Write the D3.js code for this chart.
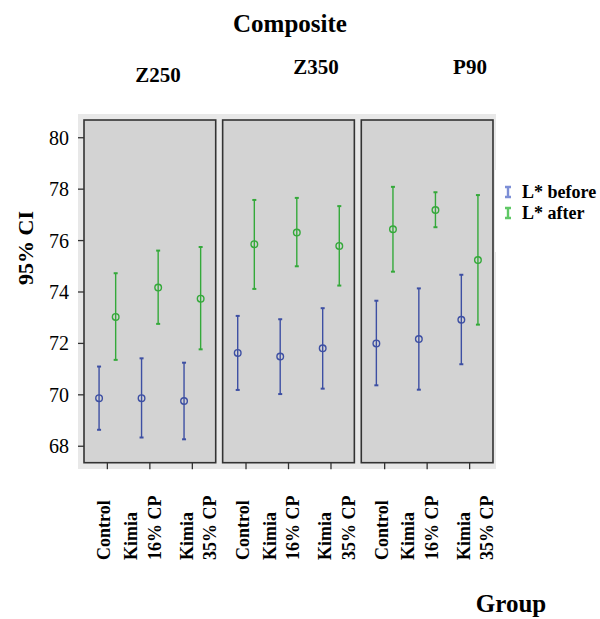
<!DOCTYPE html>
<html>
<head>
<meta charset="utf-8">
<script src="https://cdn.jsdelivr.net/npm/d3@7"></script>
<style>
  body { margin: 0; background: #fff; }
  svg text { font-family: 'Liberation Serif', 'Times New Roman', Times, 'DejaVu Serif', serif; }
</style>
</head>
<body>
<script>
// composites (panels) and groups within each panel
const composites = ['Z250', 'Z350', 'P90'];
const groups = ['Control', 'Kimia 16% CP', 'Kimia 35% CP'];
const groupLines = [['Control'], ['Kimia', '16% CP'], ['Kimia', '35% CP']];
const series = ['L* before', 'L* after'];
const yTicks = [68, 70, 72, 74, 76, 78, 80];

// mean and 95% CI, one row per composite, one value per group
const beforeMean = [[69.87, 69.87, 69.76], [71.63, 71.49, 71.81], [72.00, 72.17, 72.92]];
const beforeLow  = [[68.64, 68.34, 68.27], [70.19, 70.03, 70.24], [70.37, 70.20, 71.19]];
const beforeHigh = [[71.10, 71.42, 71.25], [73.07, 72.94, 73.37], [73.66, 74.14, 74.67]];
const afterMean  = [[73.03, 74.17, 73.74], [75.86, 76.31, 75.79], [76.44, 77.19, 75.24]];
const afterLow   = [[71.36, 72.76, 71.77], [74.12, 75.00, 74.25], [74.79, 76.52, 72.73]];
const afterHigh  = [[74.73, 75.61, 75.75], [77.58, 77.66, 77.34], [78.09, 77.88, 77.77]];

const width = 600, height = 619;
const colors = { 'L* before': '#3d4fa3', 'L* after': '#34a93a' };
const legendColors = { 'L* before': '#7d8fd6', 'L* after': '#5fc865' };

// build rows for drawing
const rows = [];
composites.forEach((c, ci) => {
    groups.forEach((g, gi) => {
        rows.push({ comp: c, group: g, series: 'L* before', mean: beforeMean[ci][gi], lo: beforeLow[ci][gi], hi: beforeHigh[ci][gi] });
        rows.push({ comp: c, group: g, series: 'L* after', mean: afterMean[ci][gi], lo: afterLow[ci][gi], hi: afterHigh[ci][gi] });
    });
});

const svg = d3.select('body').append('svg')
    .attr('width', width)
    .attr('height', height);

const panelX = d3.scaleBand().domain(composites).range([84, 493]).paddingInner(0.05);
const groupX = d3.scalePoint().domain(groups).range([0, panelX.bandwidth()]).padding(0.55);
const seriesX = d3.scalePoint().domain(series).range([-8.3, 8.3]);
const y = d3.scaleLinear().domain([67.36, 80.69]).range([462.7, 120]);

// outer background
svg.append('rect')
    .attr('x', 78).attr('y', 114)
    .attr('width', 418).attr('height', 355)
    .attr('fill', '#e8e8e8');

// title
svg.append('text')
    .attr('x', 290).attr('y', 32)
    .attr('text-anchor', 'middle')
    .attr('font-weight', 'bold').attr('font-size', 25)
    .text('Composite');

// panel labels (positions as in the original figure)
const panelLabelPos = { Z250: [158, 82], Z350: [316, 74], P90: [470, 74] };
svg.selectAll('.panel-label')
    .data(composites)
    .enter().append('text')
    .attr('class', 'panel-label')
    .attr('x', d => panelLabelPos[d][0])
    .attr('y', d => panelLabelPos[d][1])
    .attr('text-anchor', 'middle')
    .attr('font-weight', 'bold').attr('font-size', 21)
    .text(d => d);

// panels
const panel = svg.selectAll('.panel')
    .data(composites)
    .enter().append('g')
    .attr('class', 'panel')
    .attr('transform', d => 'translate(' + panelX(d) + ',0)');

panel.append('rect')
    .attr('x', 0).attr('y', y.range()[1])
    .attr('width', panelX.bandwidth())
    .attr('height', y.range()[0] - y.range()[1])
    .attr('fill', '#d3d3d3')
    .attr('stroke', '#333')
    .attr('stroke-width', 1.6);

// x ticks below each panel
panel.selectAll('.xtick')
    .data(groups)
    .enter().append('line')
    .attr('x1', d => groupX(d)).attr('x2', d => groupX(d))
    .attr('y1', y.range()[0]).attr('y2', y.range()[0] + 6.5)
    .attr('stroke', '#333').attr('stroke-width', 1.3);

// x tick labels, rotated
const labelShift = [-3, -7, 6];
panel.each(function (c) {
    const g = d3.select(this);
    groups.forEach((grp, gi) => {
        const lines = groupLines[gi];
        lines.forEach((line, li) => {
            const xx = groupX(grp) + labelShift[gi] + (li - (lines.length - 1) / 2) * 23.4 + 6;
            g.append('text')
                .attr('transform', 'translate(' + xx + ',560) rotate(-90)')
                .attr('text-anchor', 'start')
                .attr('font-weight', 'bold').attr('font-size', 18)
                .text(line);
        });
    });
});

// error bars
panel.each(function (c) {
    const g = d3.select(this);
    const data = rows.filter(r => r.comp === c);
    const bar = g.selectAll('.bar')
        .data(data)
        .enter().append('g')
        .attr('class', 'bar')
        .attr('transform', d => 'translate(' + (groupX(d.group) + seriesX(d.series)) + ',0)')
        .attr('stroke', d => colors[d.series])
        .attr('stroke-width', 1.4)
        .attr('fill', 'none');
    bar.append('line')
        .attr('y1', d => y(d.lo)).attr('y2', d => y(d.hi));
    bar.append('line')
        .attr('x1', -2).attr('x2', 2)
        .attr('y1', d => y(d.lo)).attr('y2', d => y(d.lo))
        .attr('stroke-width', 2);
    bar.append('line')
        .attr('x1', -2).attr('x2', 2)
        .attr('y1', d => y(d.hi)).attr('y2', d => y(d.hi))
        .attr('stroke-width', 2);
    bar.append('circle')
        .attr('cy', d => y(d.mean))
        .attr('r', 3.3);
});

// y axis ticks and labels
svg.selectAll('.ytick')
    .data(yTicks)
    .enter().append('line')
    .attr('x1', 78).attr('x2', 84)
    .attr('y1', d => y(d)).attr('y2', d => y(d))
    .attr('stroke', '#333').attr('stroke-width', 1.3);

svg.selectAll('.ylabel')
    .data(yTicks)
    .enter().append('text')
    .attr('x', 69)
    .attr('y', d => y(d))
    .attr('dy', '0.35em')
    .attr('text-anchor', 'end')
    .attr('font-size', 20)
    .text(d => d);

svg.append('text')
    .attr('transform', 'translate(33,248) rotate(-90)')
    .attr('text-anchor', 'middle')
    .attr('font-weight', 'bold').attr('font-size', 22)
    .text('95% CI');

// x axis title
svg.append('text')
    .attr('x', 511).attr('y', 612)
    .attr('text-anchor', 'middle')
    .attr('font-weight', 'bold').attr('font-size', 25)
    .text('Group');

// legend
svg.append('rect')
    .attr('x', 495).attr('y', 170)
    .attr('width', 105).attr('height', 82)
    .attr('fill', '#fff');

const legend = svg.selectAll('.legend')
    .data(series)
    .enter().append('g')
    .attr('class', 'legend')
    .attr('transform', (d, i) => 'translate(508,' + (192 + i * 21) + ')');

legend.append('path')
    .attr('d', 'M-3,-5H3M0,-5V5M-3,5H3')
    .attr('stroke', d => legendColors[d])
    .attr('stroke-width', 2.4)
    .attr('fill', 'none');

legend.append('text')
    .attr('x', 14)
    .attr('y', 0)
    .attr('dy', '0.35em')
    .attr('font-weight', 'bold').attr('font-size', 18)
    .text(d => d);
</script>
</body>
</html>
